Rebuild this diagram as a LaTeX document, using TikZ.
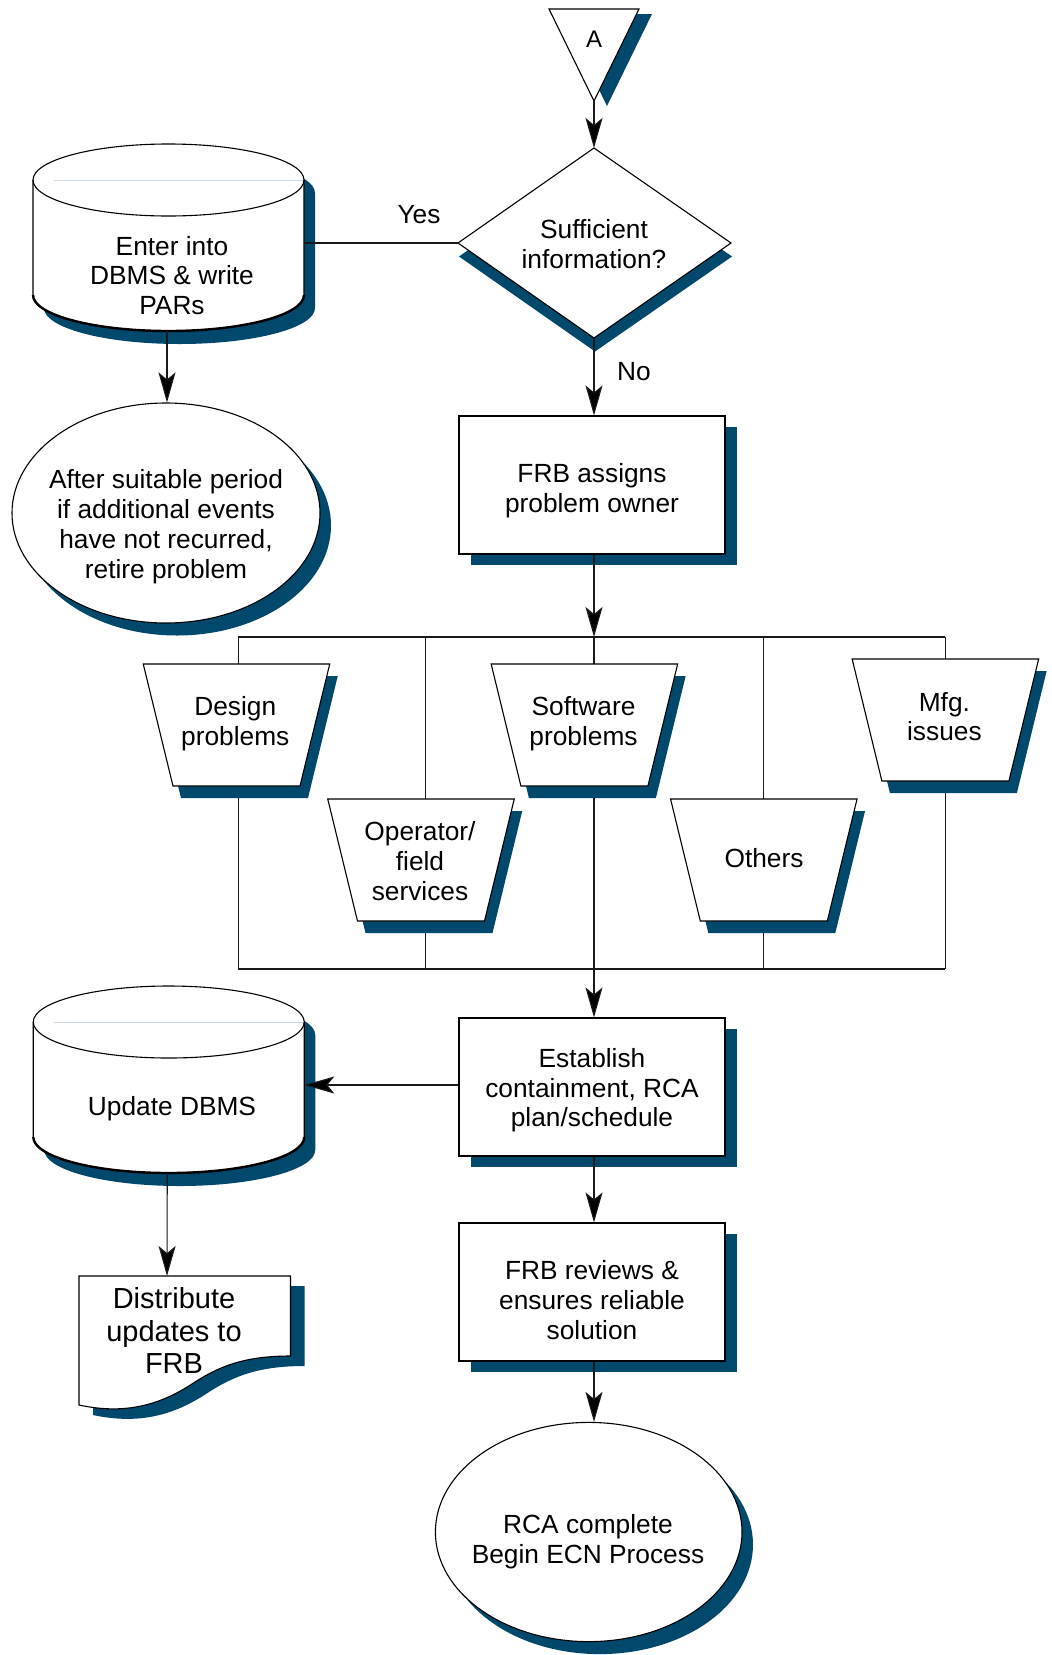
\documentclass[tikz,border=0pt]{standalone}
\usepackage{fontspec}
\setmainfont{Liberation Sans}
\usetikzlibrary{arrows.meta,shapes.geometric,shadows}
\definecolor{shblue}{RGB}{0,72,108}
\definecolor{faint}{RGB}{205,218,228}
\pgfdeclarelayer{bg}
\pgfsetlayers{bg,main}
\begin{document}
\begin{tikzpicture}[x=1pt,y=-1pt,
  txt/.style={font=\fontsize{26.3}{29.7}\selectfont, align=center, inner sep=0pt},
  bigtxt/.style={font=\fontsize{29}{32.5}\selectfont, align=center, inner sep=0pt},
  outl/.style={draw=black, line width=1.1pt, fill=white},
  shad/.style={fill=shblue, draw=none},
  conn/.style={line width=1.1pt, draw=black!90},
  arr/.style={conn, -{Stealth[length=30pt,width=17pt,inset=7pt,fill=black]}},
  boxnode/.style={outl, rectangle, minimum width=266pt, minimum height=138pt, inner sep=0pt,
    drop shadow={shadow xshift=12pt, shadow yshift=-10.5pt, fill=shblue, opacity=1}},
  ellnode/.style={outl, ellipse, inner sep=0pt,
    drop shadow={shadow xshift=11pt, shadow yshift=-12.5pt, fill=shblue, opacity=1}},
  dbcyl/.pic={
    \fill[shblue, shift={(11,13)}] (-135.5,0) -- (-135.5,115)
      arc[start angle=180, end angle=360, x radius=135.5pt, y radius=36pt] -- (135.5,0)
      arc[start angle=0, end angle=180, x radius=135.5pt, y radius=36pt] -- cycle;
    \draw[outl] (-135.5,0) -- (-135.5,115)
      arc[start angle=180, end angle=360, x radius=135.5pt, y radius=36pt] -- (135.5,0)
      arc[start angle=0, end angle=180, x radius=135.5pt, y radius=36pt] -- cycle;
    \draw[faint, line width=0.9pt] (-115,0) -- (134,0);
    \draw[line width=1.1pt] (-135.5,0) arc[start angle=180, end angle=360, x radius=135.5pt, y radius=36pt];
    \draw[line width=2.4pt] (-135.5,115) arc[start angle=180, end angle=360, x radius=135.5pt, y radius=36pt];
    \coordinate (-east) at (135.5,63);
    \coordinate (-south) at (-1.5,151);
  },
  trapz/.pic={
    \fill[shblue, shift={(8,12)}] (-93.25,0) -- (93.25,0) -- (63.5,122) -- (-63.5,122) -- cycle;
    \draw[outl] (-93.25,0) -- (93.25,0) -- (63.5,122) -- (-63.5,122) -- cycle;
    \coordinate (-n) at (0,0);
    \coordinate (-s) at (0,122);
  }
]
\begin{pgfonlayer}{bg}
\fill[white] (0,0) rectangle (1052,1655);
\end{pgfonlayer}
\useasboundingbox (0,0) rectangle (1052,1655);

% bus coordinates
\coordinate (t1) at (238.2,637);
\coordinate (t2) at (425.4,637);
\coordinate (t3) at (594,637);
\coordinate (t4) at (763.5,637);
\coordinate (t5) at (945.3,637);
\coordinate (u1) at (238.2,969);
\coordinate (u2) at (425.4,969);
\coordinate (u4) at (763.5,969);
\coordinate (u5) at (945.3,969);

% connector triangle A
\fill[shad] (562,14) -- (652,14) -- (607,106) -- cycle;
\draw[outl] (549,9) -- (639,9) -- (594,101) -- cycle;
\coordinate (triS) at (594,101);
\node[txt, font=\fontsize{24}{28}\selectfont] (triT) at (594,39) {A};

% decision diamond
\fill[shad, shift={(1,13.5)}] (594,148) -- (731,243) -- (594,338) -- (458,243) -- cycle;
\draw[outl] (594,148) -- (731,243) -- (594,338) -- (458,243) -- cycle;
\coordinate (dN) at (594,148);
\coordinate (dS) at (594,338);
\coordinate (dW) at (458,243);
\node[txt] (dT) at (594,244) {Sufficient\\information?};

% database cylinders
\pic (cA) at (168.5,180) {dbcyl};
\node[txt] (cAT) at (172,275.5) {Enter into\\DBMS \& write\\PARs};
\pic (cB) at (168.75,1022) {dbcyl};
\node[txt] (cBT) at (172,1108.2) {Update DBMS};

% retire ellipse
\node[ellnode, minimum width=308pt, minimum height=220pt] (e1) at (166,513) {};
\node[txt] (e1T) at (166,526.7) {After suitable period\\if additional events\\have not recurred,\\retire problem};

% process boxes
\node[boxnode] (frb) at (592,485) {};
\node[txt] (frbT) at (592,490.8) {FRB assigns\\problem owner};
\node[boxnode] (est) at (592,1087) {};
\node[txt] (estT) at (592,1090.2) {Establish\\containment, RCA\\plan/schedule};
\node[boxnode] (rev) at (592,1292) {};
\node[txt] (revT) at (592,1300) {FRB reviews \&\\ensures reliable\\solution};

% category trapezoids
\pic (des) at (236.5,664) {trapz};
\node[txt] (desT) at (235.3,723.9) {Design\\problems};
\pic (sw) at (584.4,664) {trapz};
\node[txt] (swT) at (583.5,723.9) {Software\\problems};
\pic (mfg) at (945.4,659) {trapz};
\node[txt] (mfgT) at (944.4,716.5) {Mfg.\\issues};
\pic (op) at (421,799) {trapz};
\node[txt] (opT) at (420,861) {Operator/\\field\\services};
\pic (oth) at (763.8,799) {trapz};
\node[txt] (othT) at (764,858) {Others};

% document
\fill[shad, shift={(14,10)}] (79,1276) -- (290.5,1276) -- (290.5,1356)
  .. controls (245,1356) and (220,1366) .. (195,1382)
  .. controls (165,1402) and (130,1416) .. (79,1405) -- cycle;
\draw[outl] (79,1276) -- (290.5,1276) -- (290.5,1356)
  .. controls (245,1356) and (220,1366) .. (195,1382)
  .. controls (165,1402) and (130,1416) .. (79,1405) -- cycle;
\coordinate (docN) at (167,1276);
\node[bigtxt] (docT) at (174,1330.6) {Distribute\\updates to\\FRB};

% final ellipse
\node[ellnode, minimum width=306.6pt, minimum height=219.2pt] (e2) at (588.7,1532) {};
\node[txt] (e2T) at (588,1541.7) {RCA complete\\Begin ECN Process};

% connectors behind the category shapes
\begin{pgfonlayer}{bg}
\draw[conn] (t1) -- (t5);
\draw[conn] (u1) -- (u5);
\draw[conn] (t1) -- (u1);
\draw[conn] (t2) -- (u2);
\draw[conn] (t4) -- (u4);
\draw[conn] (t5) -- (u5);
\draw[arr] (t3) -- (est.north -| t3);
\end{pgfonlayer}

% connectors in front
\draw[arr] (triS) -- (dN);
\draw[conn] (dW) -- (dW -| cA-east);
\node[txt] (yes) at (419,215) {Yes};
\draw[arr] (dS) -- (frb.north -| dS);
\node[txt] (no) at (634,371.5) {No};
\draw[arr] (cA-south) -- (e1.north -| cA-south);
\draw[arr] (frb.south -| t3) -- (t3);
\draw[arr] (est.west |- cB-east) -- (cB-east);
\draw[arr] (cB-south) -- (docN);
\draw[arr] (est.south -| t3) -- (rev.north -| t3);
\draw[arr] (rev.south -| t3) -- (e2.north -| t3);
\end{tikzpicture}
\end{document}
